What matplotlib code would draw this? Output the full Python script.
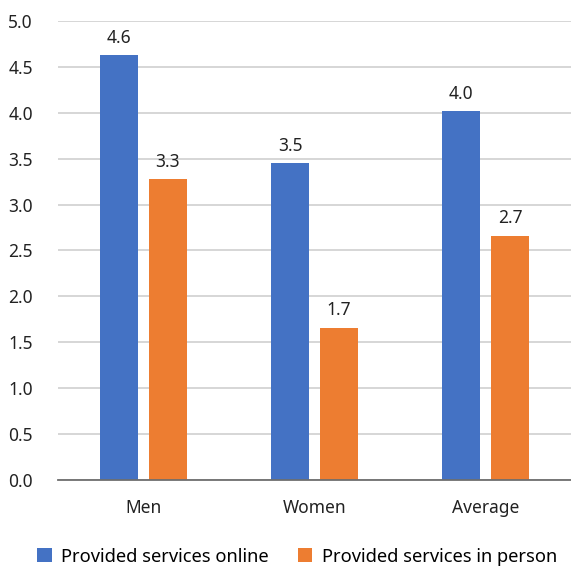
import matplotlib.pyplot as plt
import numpy as np

plt.rcParams['font.family'] = ['Noto Sans', 'DejaVu Sans']

groups = ['Men', 'Women', 'Average']
online = [4.63, 3.45, 4.02]
in_person = [3.28, 1.66, 2.66]
yticks = [0.0, 0.5, 1.0, 1.5, 2.0, 2.5, 3.0, 3.5, 4.0, 4.5, 5.0]

blue = '#4472c4'
orange = '#ed7d31'

fig = plt.figure(figsize=(5.71, 5.68), dpi=100)
ax = fig.add_axes([0.1016, 0.155, 0.8984, 0.808])

x = np.arange(len(groups))
w = 0.222
off = 0.143
b1 = ax.bar(x - off, online, w, color=blue, label='Provided services online', zorder=3)
b2 = ax.bar(x + off, in_person, w, color=orange, label='Provided services in person', zorder=3)

for bars, vals in [(b1, online), (b2, in_person)]:
    for rect, v in zip(bars, vals):
        ax.annotate(f'{v:.1f}', (rect.get_x() + rect.get_width() / 2, v),
                    xytext=(0, 6), textcoords='offset points',
                    ha='center', va='bottom', fontsize=12.5, color='#222222')

ax.set_xlim(-0.5, 2.5)
ax.set_ylim(0, 5)
ax.set_yticks(yticks)
ax.set_yticklabels([f'{t:.1f}' for t in yticks])
ax.set_xticks(x)
ax.set_xticklabels(groups)
ax.tick_params(axis='both', length=0, labelsize=12.5, colors='#222222')
ax.tick_params(axis='x', pad=14)
ax.tick_params(axis='y', pad=18)
ax.grid(axis='y', color='#d0d0d0', linewidth=1.2, zorder=0)
for s in ['top', 'right', 'left']:
    ax.spines[s].set_visible(False)
ax.spines['bottom'].set_color('#6e6e6e')
ax.spines['bottom'].set_linewidth(1.3)
ax.spines['bottom'].set_zorder(4)

fig.legend(handles=[b1, b2], loc='lower center', bbox_to_anchor=(0.52, -0.025),
           ncol=2, frameon=False, fontsize=13.2, handlelength=0.8, handleheight=0.8,
           handletextpad=0.5, columnspacing=1.6)

fig.savefig('out.png', dpi=100)
